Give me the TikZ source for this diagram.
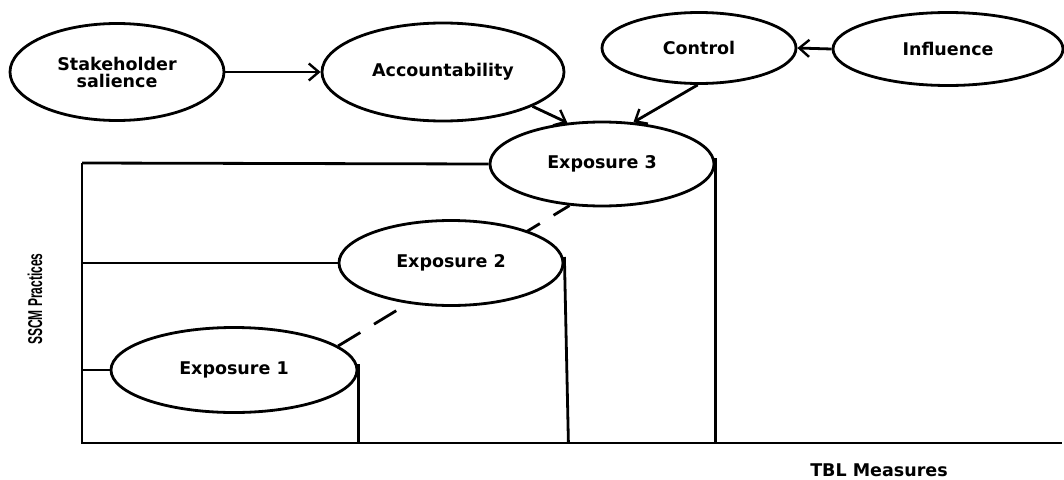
\documentclass[tikz,border=0pt]{standalone}
\usepackage{fontspec}
\setmainfont{DejaVu Sans}
\newfontfamily\axisfont{Liberation Sans}
\usetikzlibrary{shapes.geometric,arrows.meta,backgrounds}
\begin{document}
\begin{tikzpicture}[x=1pt,y=-1pt,
  every node/.style={inner sep=0pt},
  oval/.style={ellipse,draw,line width=2.8pt,fill=white,font=\fontsize{17.5}{19}\selectfont\bfseries,align=center},
  ln/.style={line width=2.8pt},
  arr/.style={line width=2.8pt,-{Straight Barb[length=10pt,width=17pt,line width=2.4pt]}},
  dsh/.style={line width=2.8pt,dash pattern=on 26pt off 16pt}]
\useasboundingbox (0,0) rectangle (1064,479);
% top nodes
\node[oval,minimum width=214pt,minimum height=97pt] (sh) at (117,72) {Stakeholder\\[-2pt]salience};
\node[oval,minimum width=242pt,minimum height=98pt] (acc) at (443,72) {Accountability};
\node[oval,minimum width=194pt,minimum height=71pt] (ctl) at (699,48) {Control};
\node[oval,minimum width=230pt,minimum height=73pt] (inf) at (948,49) {Influence};
% exposures
\node[oval,minimum width=224pt,minimum height=84pt] (e3) at (602,164) {Exposure 3};
\node[oval,minimum width=224pt,minimum height=85pt] (e2) at (451,263) {Exposure 2};
\node[oval,minimum width=246pt,minimum height=85pt] (e1) at (234,370) {Exposure 1};
% axes
\coordinate (o) at (82,443);
\coordinate (xend) at (1062,443);
\coordinate (ytop) at (82,163);
\draw[ln] (ytop) -- (o) -- (xend);
\draw[ln] (ytop) -- (e3.west);
\draw[ln] (o |- e2.west) -- (e2.west);
\draw[ln] (o |- e1.west) -- (e1.west);
\draw[ln] ([yshift=6pt]e3.east) -- (e3.east |- o);
\draw[ln] ([yshift=6pt]e2.east) -- ([xshift=4pt]e2.east |- o);
\draw[ln] ([yshift=6pt]e1.east) -- (e1.east |- o);
\begin{scope}[on background layer]
\draw[dsh] (e1.13) -- (e3.232);
\end{scope}
% arrows
\draw[arr] (sh) -- (acc);
\draw[arr] (inf.west) -- (ctl.east);
\draw[arr] (acc.-21) -- (e3.130);
\draw[arr] (ctl.-92) -- (e3.53);
% axis labels
\node[rotate=90,font=\axisfont\bfseries\fontsize{20}{24}\selectfont,xscale=0.6] (ylab) at (35,299) {SSCM Practices};
\node[font=\fontsize{17.5}{19}\selectfont\bfseries] (xlab) at (879,470) {TBL Measures};
\end{tikzpicture}
\end{document}
